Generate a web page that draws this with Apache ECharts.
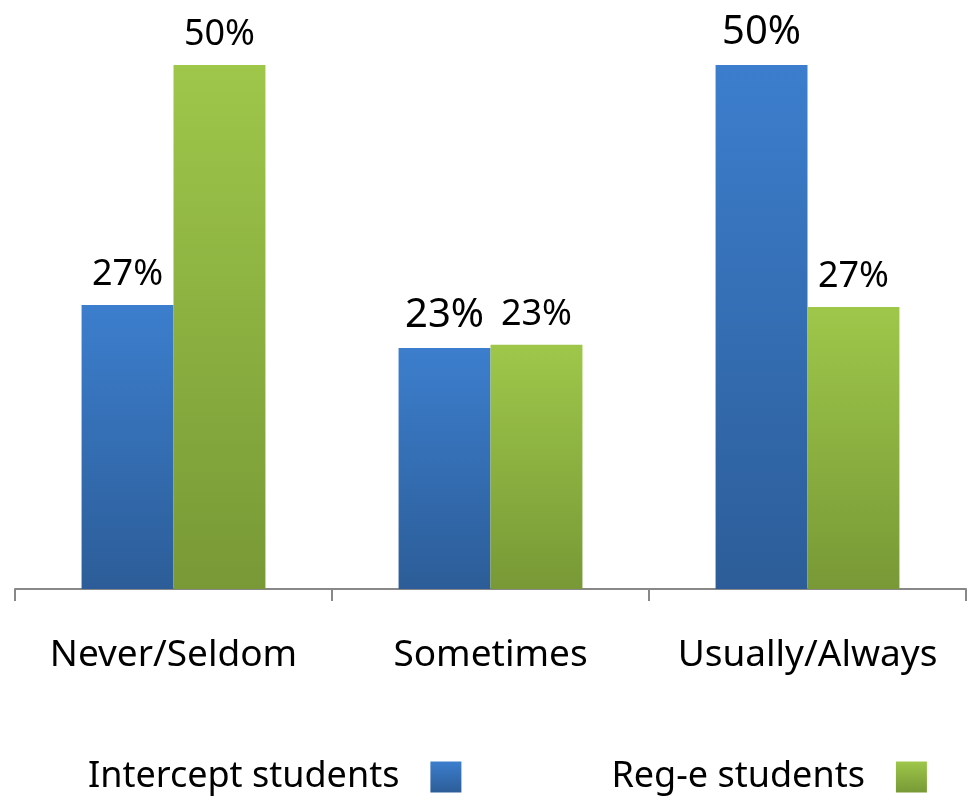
<!DOCTYPE html>
<html>
<head>
<meta charset="utf-8">
<script src="https://cdn.jsdelivr.net/npm/echarts@6/dist/echarts.min.js"></script>
<style>
  html, body { margin: 0; padding: 0; background: #fff; }
  #main { width: 968px; height: 802px; }
</style>
</head>
<body>
<div id="main"></div>
<script>
  // data
  var categories = ['Never/Seldom', 'Sometimes', 'Usually/Always'];
  var interceptValues = [27.1, 23.0, 50.1];
  var regeValues = [50.0, 23.3, 26.9];
  var interceptLabels = ['27%', '23%', '50%'];
  var regeLabels = ['50%', '23%', '27%'];
  var seriesNames = ['Intercept students', 'Reg-e students'];

  var font = 'Noto Sans';

  function grad(top, bottom) {
    return new echarts.graphic.LinearGradient(0, 0, 0, 1, [
      { offset: 0, color: top },
      { offset: 1, color: bottom }
    ]);
  }
  var blue = grad('#3c7ecd', '#2c5d98');
  var green = grad('#9ec74a', '#789936');

  // blue "23%" and "50%" are printed a bit bigger
  var interceptSizes = [36, 40, 40];
  var regeSizes = [36, 36, 36];

  function buildData(vals, labels, sizes) {
    return vals.map(function (v, i) {
      return {
        value: v,
        label: { formatter: labels[i], fontSize: sizes[i] }
      };
    });
  }

  var chart = echarts.init(document.getElementById('main'));
  var option = {
    animation: false,
    textStyle: { fontFamily: font, color: '#000' },
    grid: { left: 15, right: 2, top: 65, bottom: 213, containLabel: false },
    legend: {
      bottom: 2,
      left: 83,
      itemGap: 150,
      itemWidth: 31,
      itemHeight: 31,
      align: 'right',
      icon: 'rect',
      textStyle: { fontFamily: font, fontSize: 36, color: '#000', padding: [0, 26, 0, 0] },
      data: seriesNames
    },
    xAxis: {
      type: 'category',
      data: categories,
      axisLine: { lineStyle: { color: '#888', width: 2 } },
      axisTick: { show: true, interval: 0, length: 12, lineStyle: { color: '#888', width: 2 } },
      axisLabel: { interval: 0, fontFamily: font, fontSize: 37, color: '#000', margin: 48 }
    },
    yAxis: {
      type: 'value',
      min: 0,
      max: 50,
      show: false,
      splitLine: { show: false }
    },
    series: [
      {
        name: seriesNames[0],
        type: 'bar',
        barGap: '0%',
        barCategoryGap: '42%',
        itemStyle: { color: blue },
        label: { show: true, position: 'top', color: '#000', fontFamily: font, distance: 12 },
        data: buildData(interceptValues, interceptLabels, interceptSizes)
      },
      {
        name: seriesNames[1],
        type: 'bar',
        itemStyle: { color: green },
        label: { show: true, position: 'top', color: '#000', fontFamily: font, distance: 12 },
        data: buildData(regeValues, regeLabels, regeSizes)
      }
    ]
  };
  chart.setOption(option);
</script>
</body>
</html>
